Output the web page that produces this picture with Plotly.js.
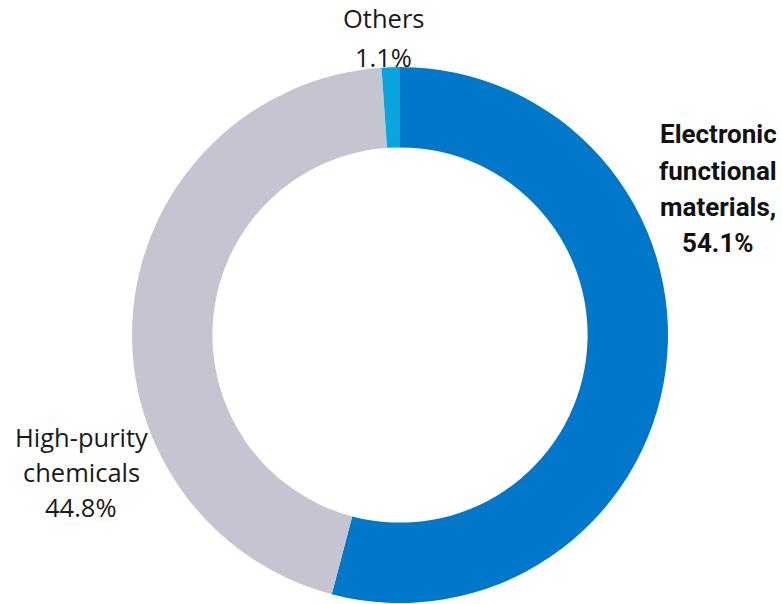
<!DOCTYPE html>
<html>
<head>
<meta charset="utf-8">
<script src="https://cdn.plot.ly/plotly-3.0.1.min.js"></script>
<style>html,body{margin:0;padding:0;background:#fff;}#chart{width:782px;height:604px;}</style>
</head>
<body>
<div id="chart"></div>
<script>
const categories = ["Electronic functional materials", "High-purity chemicals", "Others"];
const shares = [54.1, 44.8, 1.1];
const labelLines = [
  ["Electronic", "functional", "materials,", "54.1%"],
  ["High-purity", "chemicals", "44.8%"],
  ["Others", "1.1%"]
];
const colors = ["#0077C8", "#C4C5D0", "#0AA4DE"];

const M = {l: 18, r: 0, t: 67, b: 1};
const W = 782, H = 604;
const pw = W - M.l - M.r, ph = H - M.t - M.b;
const toX = px => (px - M.l) / pw;
const toY = py => (H - M.b - py) / ph;

// label anchor positions (pixel centres of first line) and line spacing
const labelPos = [
  {x: 718, y: 134, dy: 36.5, bold: true},
  {x: 81, y: 437, dy: 35, bold: false},
  {x: 383, y: 18, dy: 39, bold: false}
];

const annotations = [];
labelLines.forEach((lines, i) => {
  const p = labelPos[i];
  lines.forEach((t, j) => {
    annotations.push({
      xref: 'paper', yref: 'paper',
      x: toX(p.x), y: toY(p.y + j * p.dy),
      xanchor: 'center', yanchor: 'middle',
      text: t,
      showarrow: false,
      borderpad: 0,
      font: p.bold
        ? {family: 'Roboto, sans-serif', size: 26, weight: 700, color: '#111'}
        : {family: 'Open Sans, sans-serif', size: 25.5, weight: 400, color: '#1a1a1a'}
    });
  });
});

const data = [{
  type: 'pie',
  labels: categories,
  values: shares,
  hole: 0.70,
  sort: false,
  direction: 'clockwise',
  rotation: 0,
  marker: {colors: colors, line: {width: 0}},
  textinfo: 'none',
  hoverinfo: 'label+percent',
  showlegend: false
}];

const layout = {
  width: W, height: H,
  margin: M,
  paper_bgcolor: '#fff',
  plot_bgcolor: '#fff',
  showlegend: false,
  annotations: annotations
};

Plotly.newPlot('chart', data, layout, {displayModeBar: false, staticPlot: true});
</script>
</body>
</html>
